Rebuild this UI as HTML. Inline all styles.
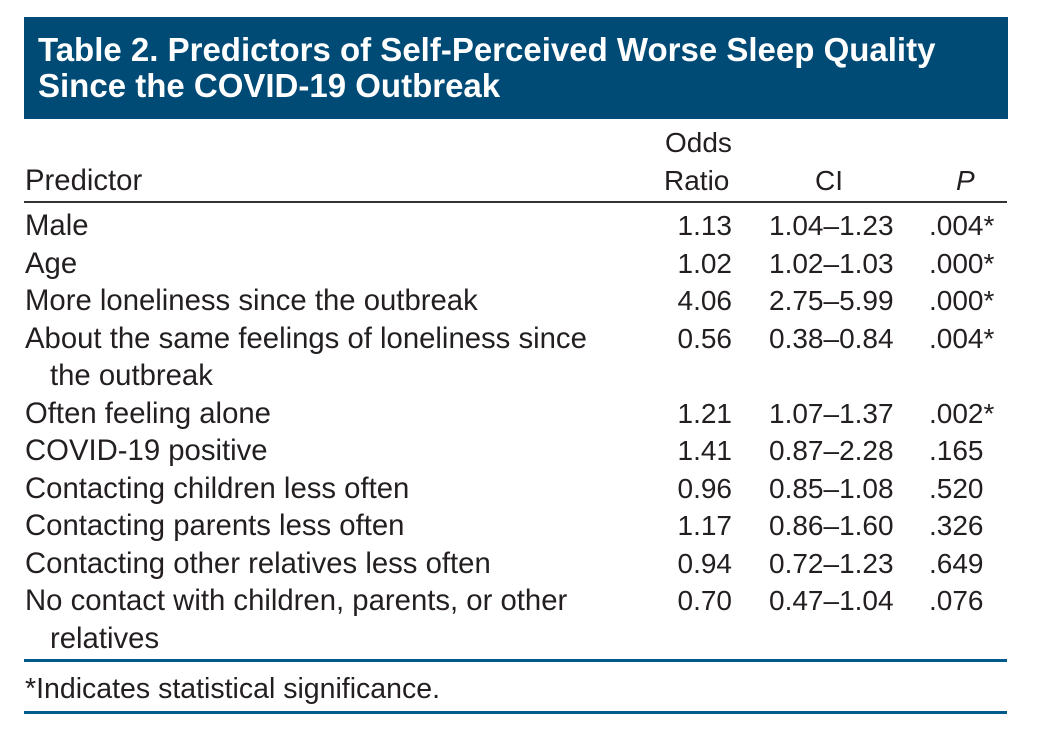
<!DOCTYPE html>
<html><head><meta charset="utf-8">
<style>
body{margin:0;background:#fff;}
#root{position:relative;width:1039px;height:740px;overflow:hidden;font-family:"Liberation Sans",sans-serif;color:#231f20;}
.title{position:absolute;left:24px;top:17px;width:984px;height:102px;background:#004a76;}
.tl{position:absolute;left:14px;color:#fff;font-weight:bold;font-size:33px;white-space:nowrap;line-height:36px;}
.t{position:absolute;font-size:28px;line-height:30px;white-space:nowrap;}
.l{left:25px;font-size:29.3px;}
.or{right:307px;text-align:right;}
.ci{left:769px;}
.p{left:929px;}
.hr{position:absolute;left:24px;width:983px;}
</style></head><body>
<div id="root">
<div class="title">
<div class="tl" style="top:15px">Table 2. Predictors of Self-Perceived Worse Sleep Quality</div>
<div class="tl" style="top:51px">Since the COVID-19 Outbreak</div>
</div>
<div class="t l" style="top:166px">Predictor</div>
<div class="t" style="top:128px;left:665px">Odds</div>
<div class="t" style="top:166px;left:664px">Ratio</div>
<div class="t" style="top:166px;left:815px">CI</div>
<div class="t" style="top:166px;left:956px;font-style:italic">P</div>
<div class="hr" style="top:201px;height:2px;background:#333"></div>
<div id="rows"></div>
<div class="hr" style="top:659px;height:3px;background:#005a8a"></div>
<div class="t l" style="top:674px;font-size:28.5px">*Indicates statistical significance.</div>
<div class="hr" style="top:711px;height:3px;background:#005a8a"></div>
</div>
<script>
const predictors=[["Male"],["Age"],["More loneliness since the outbreak"],["About the same feelings of loneliness since","the outbreak"],["Often feeling alone"],["COVID-19 positive"],["Contacting children less often"],["Contacting parents less often"],["Contacting other relatives less often"],["No contact with children, parents, or other","relatives"]];
const oddsRatios=["1.13","1.02","4.06","0.56","1.21","1.41","0.96","1.17","0.94","0.70"];
const cis=["1.04–1.23","1.02–1.03","2.75–5.99","0.38–0.84","1.07–1.37","0.87–2.28","0.85–1.08","0.86–1.60","0.72–1.23","0.47–1.04"];
const pvals=[".004*",".000*",".000*",".004*",".002*",".165",".520",".326",".649",".076"];
const rows=document.getElementById('rows');
let y=211;
function mk(cls,txt,top){const d=document.createElement('div');d.className='t '+cls;d.textContent=txt;d.style.top=top+'px';rows.appendChild(d);return d;}
predictors.forEach((p,i)=>{
 const a=mk('l',p[0],y);
 
 
 if(p[1]){const b=mk('l',p[1],y+37.5);b.style.left='50px';
 
 }
 const o=mk('or',oddsRatios[i],y);
 
 
 const c=mk('ci',cis[i],y);
 
 
 const q=mk('p',pvals[i],y);
 
 
 y+=37.5*(p[1]?2:1);
});
</script>
</body></html>
